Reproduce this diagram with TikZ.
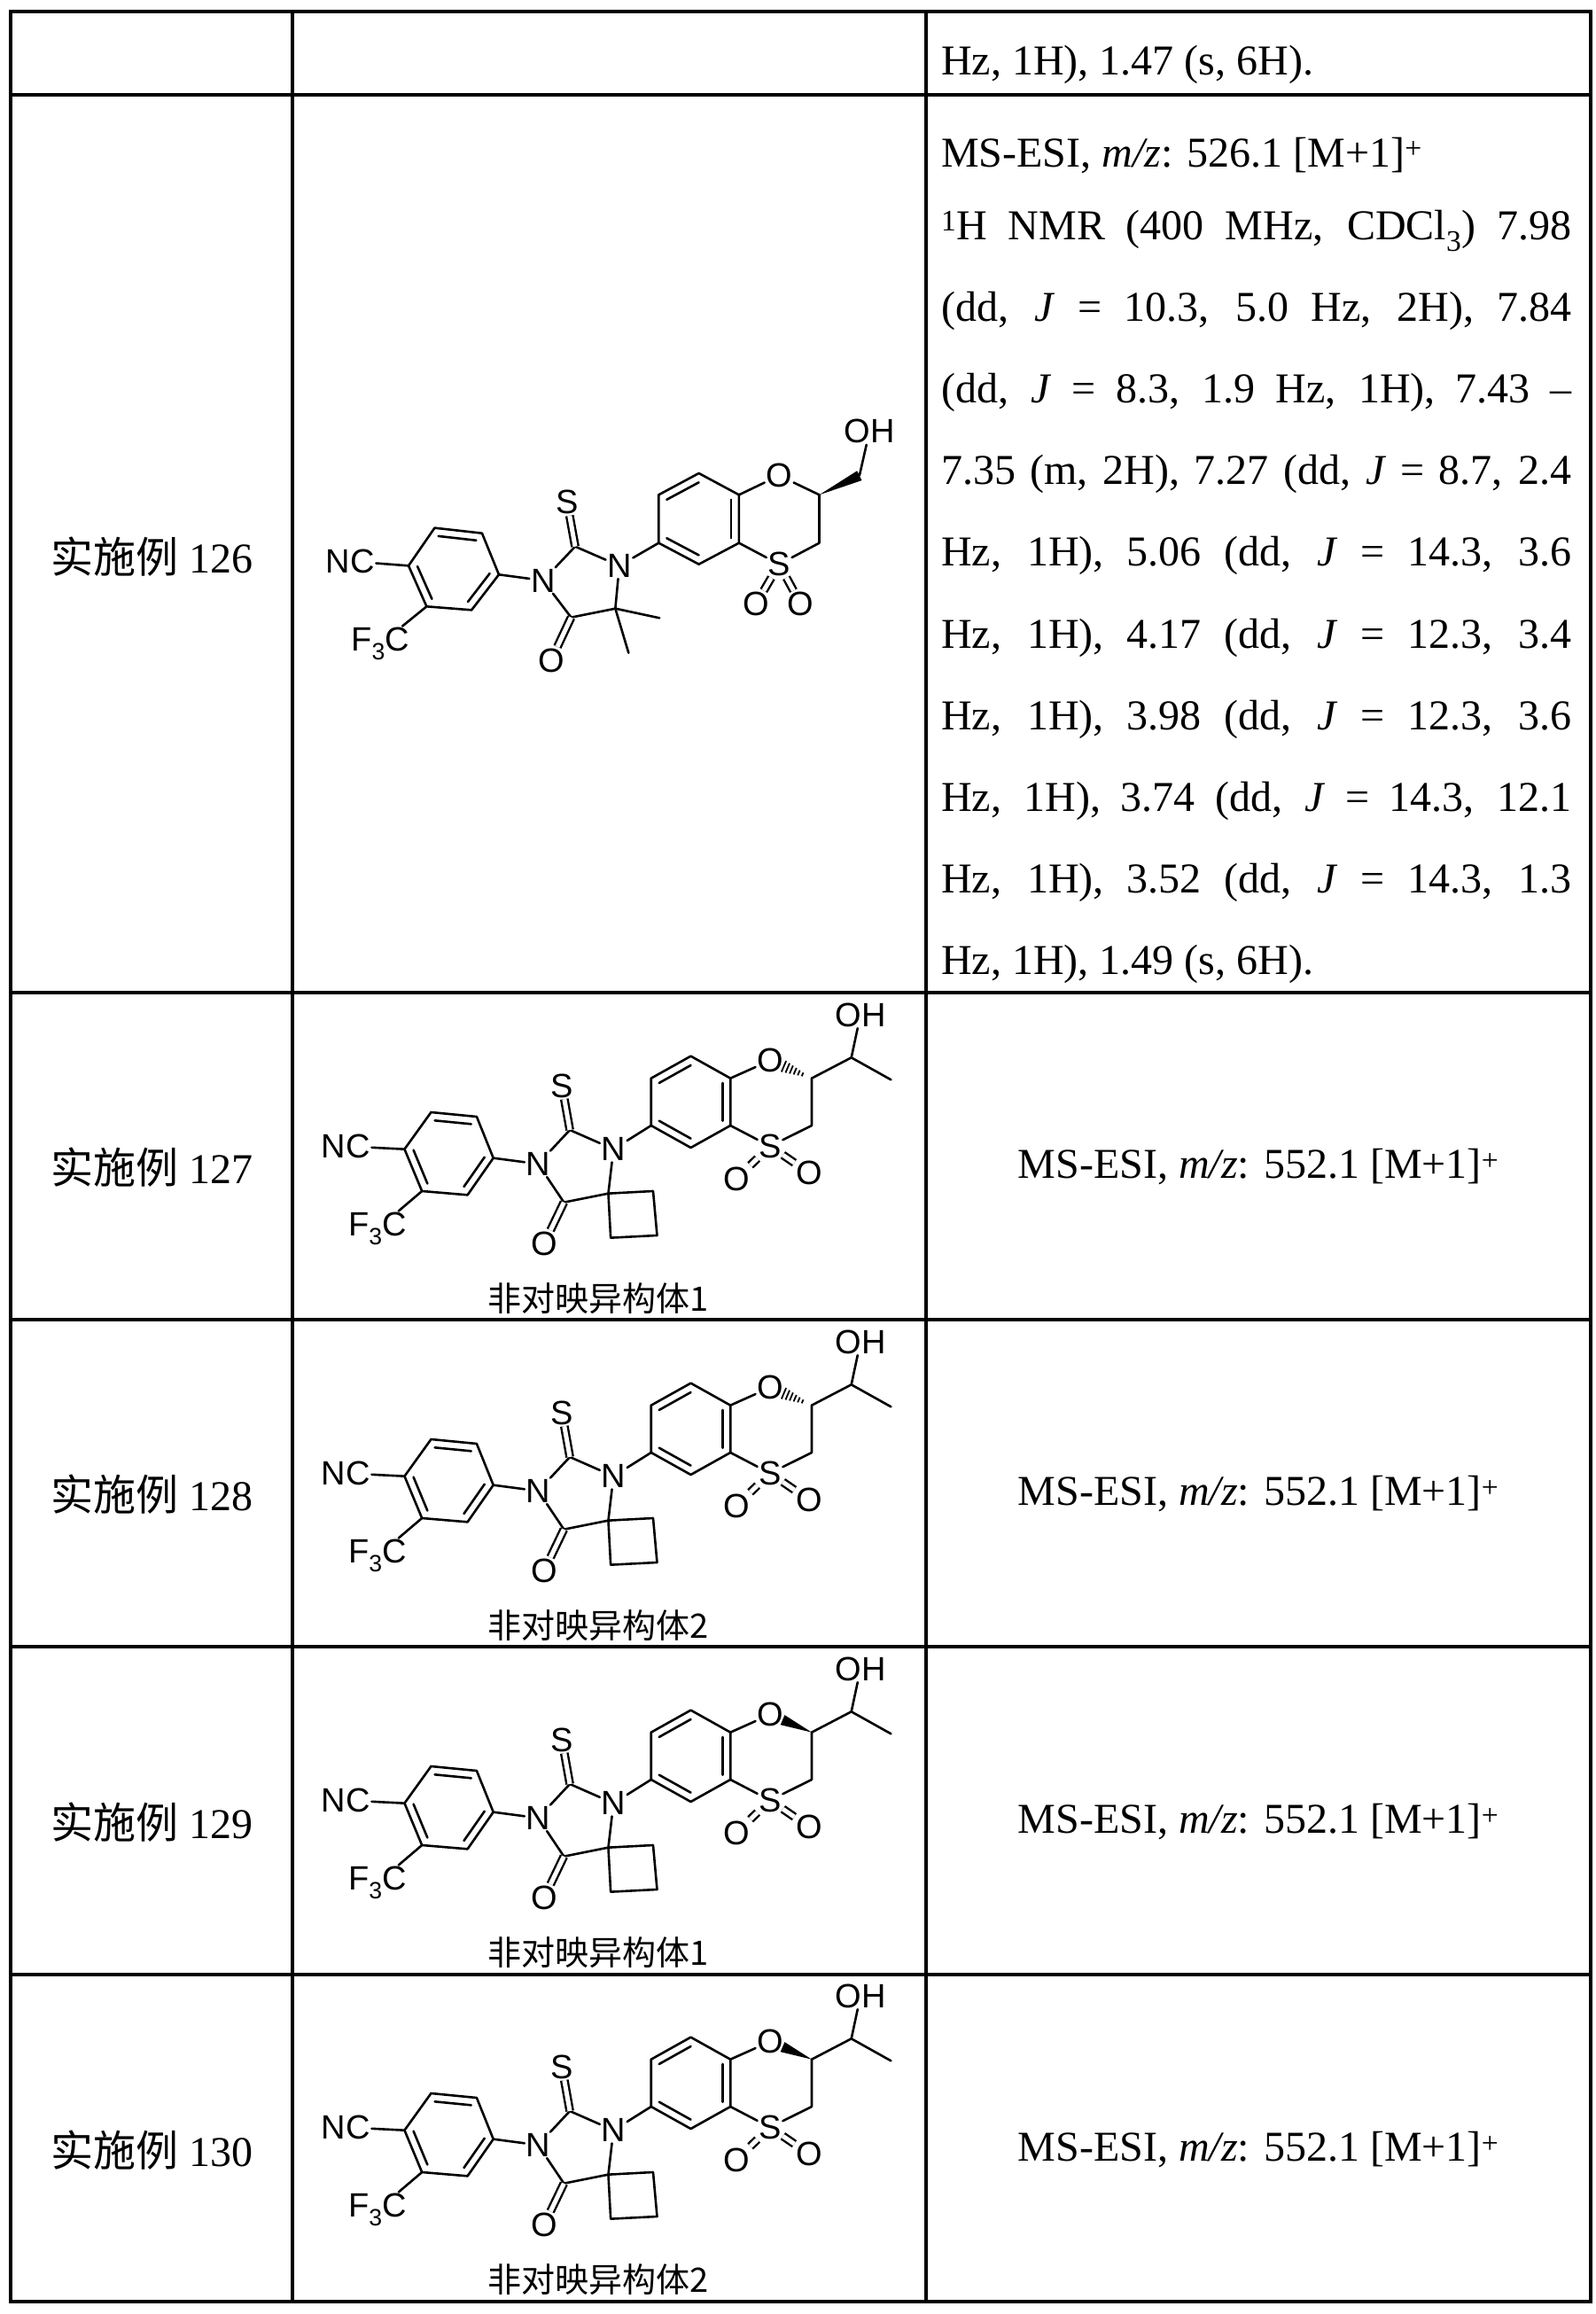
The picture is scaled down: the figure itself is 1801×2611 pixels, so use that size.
\documentclass[tikz,border=0pt]{standalone}
\usepackage{fontspec}
\setmainfont{Liberation Serif}
\newfontfamily\chemf{Liberation Sans}
\newfontfamily\cjk{Noto Sans CJK SC}
\usetikzlibrary{calc}
\tikzset{
 bond/.style={line width=2.6pt, line cap=round, line join=round},
 dbl/.style={double, double distance=5pt, line width=2.4pt},
 atom/.style={inner sep=1.5pt, font=\chemf\fontsize{38}{38}\selectfont},
 gl/.style={line width=4pt},
 body/.style={anchor=base west, inner sep=0pt, font=\fontsize{48}{56}\selectfont},
 ctr/.style={inner sep=0pt, font=\fontsize{48}{56}\selectfont},
 capt/.style={inner sep=0pt, font=\cjk\fontsize{38}{38}\selectfont},
}
\newcommand\rdb[3]{\draw[bond] ($(#1)!0.2!(#3)$) -- ($(#2)!0.2!(#3)$);}
\newcommand\molA{%
\begin{scope}[shift={(350,440)}, x={(0.4531pt,0pt)}, y={(0pt,-0.3333pt)}]
\coordinate (r1) at (310,467); \coordinate (r2) at (428,485); \coordinate (r3) at (470,625);
\coordinate (r4) at (402,745); \coordinate (r5) at (290,733); \coordinate (r6) at (245,595);
\coordinate (rc) at ($(r1)!0.5!(r4)$);
\draw[bond] (r1)--(r2)--(r3)--(r4)--(r5)--(r6)--cycle;
\rdb{r1}{r2}{rc}\rdb{r3}{r4}{rc}\rdb{r5}{r6}{rc}
\node[atom] (nc) at (100,580) {NC};
\node[atom] (fc) at (175,860) {F\textsubscript{3}C};
\draw[bond] (r6)--(nc); \draw[bond] (r5)--(fc);
\node[atom] (n1) at (580,645) {N};
\coordinate (cs) at (660,530);
\node[atom] (s1) at (640,380) {S};
\node[atom] (n3) at (770,595) {N};
\coordinate (c4) at (760,740); \coordinate (c5) at (650,770);
\node[atom] (o1) at (600,915) {O};
\draw[bond] (r3)--(n1)--(cs)--(n3)--(c4)--(c5)--(n1);
\draw[dbl] (cs)--(s1); \draw[dbl] (c5)--(o1);
\coordinate (me1) at (870,772); \coordinate (me2) at (793,890);
\draw[bond] (c4)--(me1); \draw[bond] (c4)--(me2);
\coordinate (a1) at (868,518); \coordinate (a2) at (868,355); \coordinate (a3) at (968,282);
\coordinate (a4) at (1068,355); \coordinate (a5) at (1068,518); \coordinate (a6) at (968,590);
\coordinate (ac) at ($(a1)!0.5!(a4)$);
\draw[bond] (a1)--(a2)--(a3)--(a4)--(a5)--(a6)--cycle;
\rdb{a2}{a3}{ac}\rdb{a4}{a5}{ac}\rdb{a6}{a1}{ac}
\draw[bond] (n3)--(a1);
\node[atom] (o2) at (1168,290) {O}; \node[atom] (s2) at (1168,590) {S};
\coordinate (cst) at (1268,355); \coordinate (cm) at (1268,518);
\draw[bond] (a4)--(o2)--(cst)--(cm)--(s2)--(a5);
\node[atom] (ox1) at (1110,725) {O}; \node[atom] (ox2) at (1222,725) {O};
\draw[dbl] (s2)--(ox1); \draw[dbl] (s2)--(ox2);
\coordinate (ch2) at (1368,290);
\fill (cst) -- ($(ch2)!6pt!90:(cst)$) -- ($(ch2)!6pt!-90:(cst)$) -- cycle;
\node[atom] (oh) at (1393,140) {OH};
\draw[bond] (ch2)--(oh);
\end{scope}}
\newcommand\molB[3]{%
\begin{scope}[shift={(350,{1120+#1})}, x={(0.4474pt,0pt)}, y={(0pt,-0.3333pt)}]
\coordinate (r1) at (305,405); \coordinate (r2) at (420,420); \coordinate (r3) at (462,560);
\coordinate (r4) at (397,685); \coordinate (r5) at (282,672); \coordinate (r6) at (238,530);
\coordinate (rc) at ($(r1)!0.5!(r4)$);
\draw[bond] (r1)--(r2)--(r3)--(r4)--(r5)--(r6)--cycle;
\rdb{r1}{r2}{rc}\rdb{r3}{r4}{rc}\rdb{r5}{r6}{rc}
\node[atom] (nc) at (90,520) {NC};
\node[atom] (fc) at (170,800) {F\textsubscript{3}C};
\draw[bond] (r6)--(nc); \draw[bond] (r5)--(fc);
\node[atom] (n1) at (575,580) {N};
\coordinate (cs) at (655,465);
\node[atom] (s1) at (635,315) {S};
\node[atom] (n3) at (765,530) {N};
\coordinate (c4) at (752,680); \coordinate (c5) at (640,710);
\node[atom] (o1) at (590,850) {O};
\draw[bond] (r3)--(n1)--(cs)--(n3)--(c4)--(c5)--(n1);
\draw[dbl] (cs)--(s1); \draw[dbl] (c5)--(o1);
\coordinate (cb1) at (865,672); \coordinate (cb2) at (875,822); \coordinate (cb3) at (758,830);
\draw[bond] (c4)--(cb1)--(cb2)--(cb3)--cycle;
\coordinate (a1) at (860,450); \coordinate (a2) at (860,290); \coordinate (a3) at (960,215);
\coordinate (a4) at (1060,290); \coordinate (a5) at (1060,450); \coordinate (a6) at (960,525);
\coordinate (ac) at ($(a1)!0.5!(a4)$);
\draw[bond] (a1)--(a2)--(a3)--(a4)--(a5)--(a6)--cycle;
\rdb{a2}{a3}{ac}\rdb{a4}{a5}{ac}\rdb{a6}{a1}{ac}
\draw[bond] (n3)--(a1);
\node[atom] (o2) at (1160,230) {O}; \node[atom] (s2) at (1160,520) {S};
\coordinate (cst) at (1265,290); \coordinate (cm) at (1265,450);
\draw[bond] (a4)--(o2); \draw[bond] (cst)--(cm)--(s2)--(a5);
\node[atom] (ox1) at (1075,630) {O}; \node[atom] (ox2) at (1258,610) {O};
\draw[dbl] (s2)--(ox1); \draw[dbl] (s2)--(ox2);
\coordinate (cc) at (1365,220); \coordinate (me) at (1465,295);
\node[atom] (oh) at (1388,75) {OH};
\draw[bond] (cst)--(cc)--(me); \draw[bond] (cc)--(oh);
\ifnum#2=1
 \foreach \t in {0.22,0.31,0.40,0.49,0.58,0.67}{
  \coordinate (hp) at ($(cst)!\t!(o2)$);
  \draw[line width=1.8pt] ($(hp)!{\t*10pt}!90:(o2)$) -- ($(hp)!{\t*10pt}!-90:(o2)$);}
\else
 \coordinate (wend) at ($(cst)!0.7!(o2)$);
 \fill (cst) -- ($(wend)!6pt!90:(cst)$) -- ($(wend)!6pt!-90:(cst)$) -- cycle;
\fi
\end{scope}
\node[capt] (cap#3) at (675,{1465+#1}) {非对映异构体#3};}
\begin{document}
\begin{tikzpicture}[x=1pt,y=-1pt]
\useasboundingbox[fill=white] (0,0) rectangle (1801,2611);
\draw[gl] (12,13) rectangle (1795,2597);
\foreach \yy in {107,1120,1489,1858,2228} \draw[gl] (12,\yy) -- (1795,\yy);
\draw[gl] (330,13) -- (330,2597);
\draw[gl] (1045,13) -- (1045,2597);
\node[body] (t0) at (1062,84) {Hz, 1H), 1.47 (s, 6H).};
\node[ctr] (lab126) at (171,628) {{\cjk 实施例} 126};
\node[body] (t1) at (1062,188) {MS-ESI, \textit{m/z}: 526.1 [M+1]\textsuperscript{+}};
\node[body] (t2) at (1062,270) {\makebox[711pt][s]{\textsuperscript{1}H NMR (400 MHz, CDCl\textsubscript{3}) 7.98}};
\node[body] (t3) at (1062,362) {\makebox[711pt][s]{(dd, \textit{J} = 10.3, 5.0 Hz, 2H), 7.84}};
\node[body] (t4) at (1062,454) {\makebox[711pt][s]{(dd, \textit{J} = 8.3, 1.9 Hz, 1H), 7.43 –}};
\node[body] (t5) at (1062,546) {\makebox[711pt][s]{7.35 (m, 2H), 7.27 (dd, \textit{J} = 8.7, 2.4}};
\node[body] (t6) at (1062,638) {\makebox[711pt][s]{Hz, 1H), 5.06 (dd, \textit{J} = 14.3, 3.6}};
\node[body] (t7) at (1062,731) {\makebox[711pt][s]{Hz, 1H), 4.17 (dd, \textit{J} = 12.3, 3.4}};
\node[body] (t8) at (1062,823) {\makebox[711pt][s]{Hz, 1H), 3.98 (dd, \textit{J} = 12.3, 3.6}};
\node[body] (t9) at (1062,915) {\makebox[711pt][s]{Hz, 1H), 3.74 (dd, \textit{J} = 14.3, 12.1}};
\node[body] (t10) at (1062,1007) {\makebox[711pt][s]{Hz, 1H), 3.52 (dd, \textit{J} = 14.3, 1.3}};
\node[body] (t11) at (1062,1099) {Hz, 1H), 1.49 (s, 6H).};
\molA
\node[ctr] (lab127) at (171,1317) {{\cjk 实施例} 127};
\node[ctr] (ms127) at (1420,1317) {MS-ESI, \textit{m/z}: 552.1 [M+1]\textsuperscript{+}};
\molB{0}{1}{1}
\node[ctr] (lab128) at (171,1686) {{\cjk 实施例} 128};
\node[ctr] (ms128) at (1420,1686) {MS-ESI, \textit{m/z}: 552.1 [M+1]\textsuperscript{+}};
\molB{369}{1}{2}
\node[ctr] (lab129) at (171,2056) {{\cjk 实施例} 129};
\node[ctr] (ms129) at (1420,2056) {MS-ESI, \textit{m/z}: 552.1 [M+1]\textsuperscript{+}};
\molB{738}{2}{1}
\node[ctr] (lab130) at (171,2426) {{\cjk 实施例} 130};
\node[ctr] (ms130) at (1420,2426) {MS-ESI, \textit{m/z}: 552.1 [M+1]\textsuperscript{+}};
\molB{1107}{2}{2}
\end{tikzpicture}
\end{document}
